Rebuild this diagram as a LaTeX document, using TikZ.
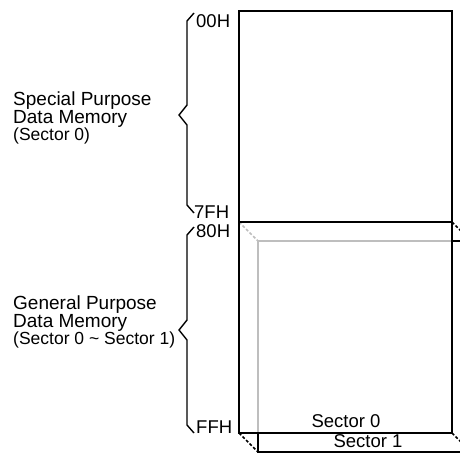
\documentclass[tikz,border=0pt]{standalone}
\usepackage{fontspec}
\setmainfont{Liberation Sans}
\usetikzlibrary{positioning}
\definecolor{hidden}{RGB}{190,190,190}

\begin{document}
\begin{tikzpicture}[x=1pt, y=-1pt,
  edge/.style={line width=1.6pt},
  hid/.style={line width=1.5pt, draw=hidden},
  dots/.style={dash pattern=on 3pt off 2pt},
  brace/.style={line width=1.4pt},
  addr/.style={anchor=base west, inner sep=0pt, font=\fontsize{18.5}{20}\selectfont},
  region/.style={anchor=west, inner sep=0pt, align=left, font=\fontsize{19}{15.5}\selectfont},
  sector/.style={anchor=base, inner sep=0pt, font=\fontsize{18.5}{20}\selectfont}]
  \useasboundingbox (0,0) rectangle (460,453);
  \clip (0,0) rectangle (460,453);

  \coordinate (tl) at (239,11);
  \coordinate (tr) at (452,11);
  \coordinate (ml) at (239,222);
  \coordinate (mr) at (452,222);
  \coordinate (bl) at (239,433);
  \coordinate (br) at (452,433);
  \coordinate (ml1) at (258,241);
  \coordinate (mr1) at (471,241);
  \coordinate (bl1) at (258,452);
  \coordinate (br1) at (471,452);

  \draw[hid] (ml1) -- (mr1);
  \draw[hid] (ml1) -- (258,433);
  \draw[hid, dots] (ml) -- (ml1);
  \draw[edge] (452,241) -- (mr1);
  \draw[edge] (258,433) -- (bl1) -- (br1);
  \draw[edge, dots] (mr) -- (mr1);
  \draw[edge, dots] (bl) -- (bl1);
  \draw[edge, dots] (br) -- (br1);
  \draw[edge] (tl) rectangle (br);
  \draw[edge] (ml) -- (mr);

  \node[sector] (sec0) at (346,427) {Sector 0};
  \node[sector] (sec1) at (368,447) {Sector 1};

  \node[addr] (a00) at (196,27) {00H};
  \node[addr] (a7f) at (194,218) {7FH};
  \node[addr] (a80) at (196,237) {80H};
  \node[addr] (aff) at (196,433) {FFH};

  \draw[brace] (194,13) -- (187,21) -- (187,105) -- (179,115) -- (187,125) -- (187,205) -- (194,213);
  \draw[brace] (194,227) -- (187,235) -- (187,320) -- (179,330) -- (187,340) -- (187,425) -- (194,433);

  \node[region] (spm) at (13,118) {Special Purpose\\Data Memory\\{\fontsize{17.5}{15}\selectfont(Sector 0)}};
  \node[region] (gpm) at (13,322) {General Purpose\\Data Memory\\{\fontsize{17.5}{15}\selectfont(Sector 0 \textasciitilde{} Sector 1)}};
\end{tikzpicture}
\end{document}
